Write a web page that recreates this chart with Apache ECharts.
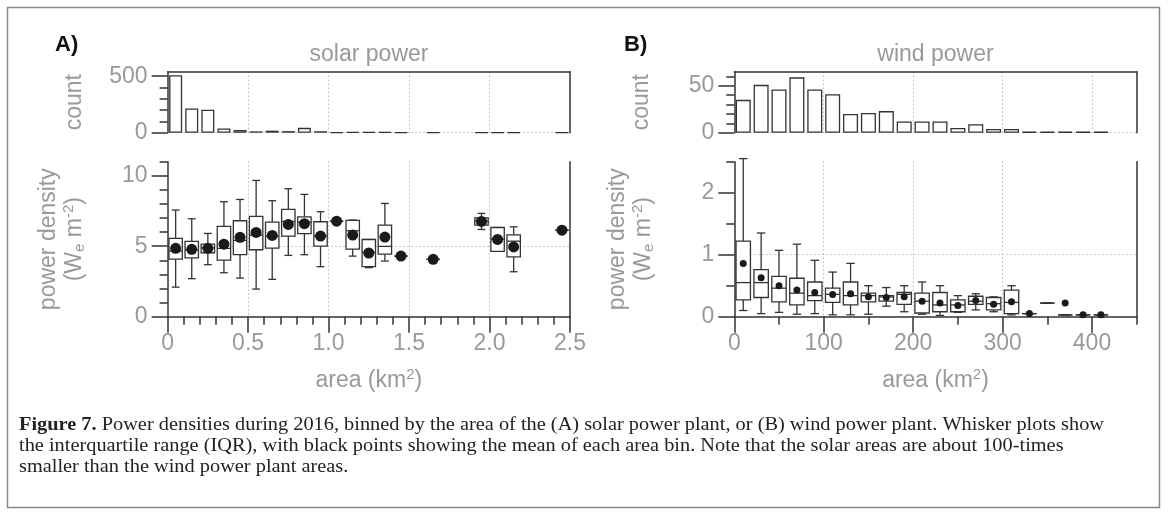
<!DOCTYPE html>
<html>
<head>
<meta charset="utf-8">
<title>Power densities by area</title>
<script src="https://cdn.jsdelivr.net/npm/echarts@6/dist/echarts.min.js"></script>
<style>
  html, body { margin: 0; padding: 0; background: #fff; }
  #main { width: 1168px; height: 515px; }
</style>
</head>
<body>
<div id="main"></div>
<script>
// ---- solar: histogram of plant counts, bins of 0.1 km2
var solarHistBins = [0.05, 0.15, 0.25, 0.35, 0.45, 0.55, 0.65, 0.75, 0.85, 0.95,
                     1.05, 1.15, 1.25, 1.35, 1.45, 1.55, 1.65, 1.75, 1.85, 1.95,
                     2.05, 2.15, 2.25, 2.35, 2.45];
var solarCounts = [508, 215, 203, 38, 25, 12, 18, 14, 43, 13,
                   3, 5, 5, 4, 2, null, 1, null, null, 2,
                   3, 3, null, null, 1];

// ---- solar: power density whiskers (W m-2)
var solarBins = [0.05, 0.15, 0.25, 0.35, 0.45, 0.55, 0.65, 0.75, 0.85, 0.95,
                 1.05, 1.15, 1.25, 1.35, 1.45, 1.65, 1.95, 2.05, 2.15, 2.45];
var solarMin  = [2.10, 2.70, 3.69, 3.12, 2.74, 1.96, 2.65, 4.35, 4.40, 3.55, 6.78, 4.30, 3.48, 3.95, 4.30, 4.07, 6.19, 4.64, 3.19, 6.14];
var solarQ1   = [4.09, 4.18, 4.54, 4.02, 4.40, 4.75, 4.87, 5.72, 5.89, 5.01, 6.78, 4.80, 3.55, 4.44, 4.30, 4.07, 6.50, 4.64, 4.24, 6.14];
var solarMed  = [4.66, 4.73, 4.89, 4.85, 5.41, 5.79, 5.70, 6.76, 6.71, 5.72, 6.78, 6.10, 4.56, 4.99, 4.30, 4.07, 6.79, 5.50, 5.36, 6.14];
var solarQ3   = [5.56, 5.34, 5.15, 6.41, 6.81, 7.12, 6.71, 7.61, 7.09, 6.74, 6.78, 6.83, 5.48, 6.50, 4.30, 4.07, 7.02, 6.33, 5.81, 6.14];
var solarMax  = [7.57, 6.95, 5.91, 8.16, 8.32, 9.67, 8.23, 9.08, 8.68, 7.45, 6.78, 6.86, 5.48, 8.04, 4.30, 4.07, 7.33, 6.33, 6.38, 6.14];
var solarMean = [4.85, 4.78, 4.85, 5.15, 5.63, 5.98, 5.77, 6.55, 6.60, 5.72, 6.78, 5.79, 4.52, 5.65, 4.30, 4.07, 6.76, 5.48, 4.95, 6.14];

// ---- wind: histogram, bins of 20 km2
var windHistBins = [10, 30, 50, 70, 90, 110, 130, 150, 170, 190, 210,
                    230, 250, 270, 290, 310, 330, 350, 370, 390, 410];
var windCounts = [35, 51, 46, 59, 46, 41, 20, 21, 23, 12, 12,
                  12, 5, 9, 4, 4, 1, 1, 1, 1, 1];

// ---- wind: power density whiskers
var windBins = [10, 30, 50, 70, 90, 110, 130, 150, 170, 190, 210,
                230, 250, 270, 290, 310, 330, 350, 370, 390, 410];
var windMin  = [0.10, 0.05, 0.07, 0.04, 0.05, 0.03, 0.03, 0.04, 0.17, 0.08, 0.04, 0.02, 0.07, 0.11, 0.08, 0.03, 0.05, 0.22, 0.03, 0.03, 0.03];
var windQ1   = [0.27, 0.31, 0.24, 0.19, 0.26, 0.23, 0.19, 0.24, 0.25, 0.20, 0.06, 0.08, 0.08, 0.20, 0.11, 0.05, 0.05, 0.22, 0.03, 0.03, 0.03];
var windMed  = [0.55, 0.55, 0.46, 0.38, 0.34, 0.36, 0.34, 0.34, 0.32, 0.36, 0.25, 0.19, 0.19, 0.25, 0.21, 0.23, 0.05, 0.22, 0.03, 0.03, 0.03];
var windQ3   = [1.22, 0.76, 0.65, 0.62, 0.56, 0.46, 0.56, 0.38, 0.34, 0.39, 0.38, 0.39, 0.27, 0.33, 0.31, 0.43, 0.05, 0.22, 0.03, 0.03, 0.03];
var windMax  = [2.55, 1.35, 1.07, 1.17, 0.91, 0.72, 0.86, 0.50, 0.47, 0.50, 0.56, 0.50, 0.34, 0.37, 0.32, 0.50, 0.05, 0.22, 0.03, 0.03, 0.03];
var windMean = [0.86, 0.63, 0.50, 0.43, 0.39, 0.36, 0.37, 0.32, 0.31, 0.32, 0.25, 0.22, 0.18, 0.26, 0.20, 0.24, 0.05, null, 0.22, 0.03, 0.03];

// ---- ticks / labels
var solarCountTicks = [0, 500];
var solarCountMinor = [100, 200, 300, 400];
var solarDensityTicks = [0, 5, 10];
var solarAreaLabels = ['0', '0.5', '1.0', '1.5', '2.0', '2.5'];
var windCountTicks = [0, 50];
var windCountMinor = [10, 20, 30, 40, 60];
var windDensityTicks = [0, 1, 2];
var windAreaTicks = [0, 100, 200, 300, 400];
var windAreaMinor = [50, 150, 250, 350, 450];

var captionBold = 'Figure 7.';
var captionLines = [
  ' Power densities during 2016, binned by the area of the (A) solar power plant, or (B) wind power plant. Whisker plots show',
  'the interquartile range (IQR), with black points showing the mean of each area bin. Note that the solar areas are about 100-times',
  'smaller than the wind power plant areas.'
];

var FONT = '"Liberation Sans", Arial, sans-serif';
var SERIF = '"Liberation Serif", "Times New Roman", serif';
var GRAY = '#999';
var INK = '#333';

function zip(xs, cols) {
  var out = [];
  for (var i = 0; i < xs.length; i++) {
    var row = [xs[i]];
    var skip = false;
    for (var j = 0; j < cols.length; j++) {
      if (cols[j][i] == null) skip = true;
      row.push(cols[j][i]);
    }
    if (!skip) out.push(row);
  }
  return out;
}

var dotted = {
  show: true, showMinLine: false, showMaxLine: false,
  lineStyle: { color: '#999', type: [1, 3], width: 1 }
};

function axis(dim, grid, pos, min, max, extra) {
  var a = {
    type: 'value', gridIndex: grid, position: pos, min: min, max: max,
    axisLine: { show: false, onZero: false, lineStyle: { color: INK, width: 1.5 } },
    axisTick: { show: false },
    axisLabel: { show: false },
    splitLine: { show: false }
  };
  for (var k in extra) a[k] = extra[k];
  if (a.axisLine.onZero !== false) a.axisLine.onZero = false;
  return a;
}
function line() { return { show: true, onZero: false, lineStyle: { color: INK, width: 1.5 } }; }
function ticks(len, values) {
  var t = { show: true, inside: false, length: len, lineStyle: { color: INK, width: 1.5 } };
  if (values) t.customValues = values;
  return t;
}
function labels(margin, extra) {
  var l = { show: true, color: GRAY, fontSize: 23, fontFamily: FONT, margin: margin };
  for (var k in extra) l[k] = extra[k];
  return l;
}
var nameStyle = {
  color: GRAY, fontSize: 23, fontFamily: FONT, lineHeight: 26,
  rich: {
    t: { color: GRAY, fontSize: 23, fontFamily: FONT, lineHeight: 26 },
    sub: { color: GRAY, fontSize: 15, fontFamily: FONT, lineHeight: 13, verticalAlign: 'bottom' },
    sup: { color: GRAY, fontSize: 15, fontFamily: FONT, lineHeight: 13, verticalAlign: 'top' }
  }
};
var densityName = '{t|power density}\n{t|(W}{sub|e}{t| m}{sup|-2}{t|)}';
var areaName = 'area (km{sup|2})';

function boxRenderer(halfW, capW) {
  return function (params, api) {
    var x = api.value(0);
    var lo = api.coord([x, api.value(1)]);
    var q1 = api.coord([x, api.value(2)]);
    var md = api.coord([x, api.value(3)]);
    var q3 = api.coord([x, api.value(4)]);
    var hi = api.coord([x, api.value(5)]);
    var cx = lo[0];
    var st = { stroke: INK, lineWidth: 1.3 };
    return {
      type: 'group',
      children: [
        { type: 'line', shape: { x1: cx, y1: hi[1], x2: cx, y2: q3[1] }, style: st },
        { type: 'line', shape: { x1: cx, y1: q1[1], x2: cx, y2: lo[1] }, style: st },
        { type: 'line', shape: { x1: cx - capW, y1: hi[1], x2: cx + capW, y2: hi[1] }, style: st },
        { type: 'line', shape: { x1: cx - capW, y1: lo[1], x2: cx + capW, y2: lo[1] }, style: st },
        { type: 'rect', shape: { x: cx - halfW, y: q3[1], width: 2 * halfW, height: q1[1] - q3[1] },
          style: { stroke: INK, lineWidth: 1.3, fill: '#fff' } },
        { type: 'line', shape: { x1: cx - halfW, y1: md[1], x2: cx + halfW, y2: md[1] }, style: st }
      ]
    };
  };
}

// caption width fitted to the printed line length
var CAP_SIZE = 19;
var mctx = document.createElement('canvas').getContext('2d');
mctx.font = 'bold ' + CAP_SIZE + 'px ' + SERIF;
var capW = mctx.measureText(captionBold).width;
mctx.font = CAP_SIZE + 'px ' + SERIF;
capW += mctx.measureText(captionLines[0]).width;
var capScale = (1104 - 19) / capW;
var capFont = CAP_SIZE + 'px ' + SERIF;

var chart = echarts.init(document.getElementById('main'));

var option = {
  animation: false,
  backgroundColor: '#fff',
  grid: [
    { left: 167.6, top: 71.7, width: 402.4, height: 61, outerBoundsMode: 'none' },
    { left: 167.6, top: 161.7, width: 402.4, height: 155, outerBoundsMode: 'none' },
    { left: 734.3, top: 71.7, width: 402.4, height: 61, outerBoundsMode: 'none' },
    { left: 734.3, top: 161.7, width: 402.4, height: 155, outerBoundsMode: 'none' }
  ],
  xAxis: [
    // solar histogram
    axis('x', 0, 'bottom', 0, 2.5, { interval: 0.5, splitLine: dotted }),
    axis('x', 0, 'top', 0, 2.5, { axisLine: line() }),
    // solar density
    axis('x', 1, 'bottom', 0, 2.5, {
      interval: 0.5, axisLine: line(), axisTick: ticks(16), splitLine: dotted,
      axisLabel: labels(15, { formatter: function (v) { return solarAreaLabels[Math.round(v / 0.5)]; } }),
      name: areaName, nameLocation: 'middle', nameGap: 51, nameTextStyle: nameStyle
    }),
    axis('x', 1, 'bottom', 0, 2.5, { interval: 0.1, axisTick: ticks(8) }),
    // wind histogram
    axis('x', 2, 'bottom', 0, 450, { interval: 100, splitLine: dotted }),
    axis('x', 2, 'top', 0, 450, { axisLine: line() }),
    // wind density
    axis('x', 3, 'bottom', 0, 450, {
      interval: 100, axisLine: line(), axisTick: ticks(16, windAreaTicks), splitLine: dotted,
      axisLabel: labels(15, { customValues: windAreaTicks }),
      name: areaName, nameLocation: 'middle', nameGap: 51, nameTextStyle: nameStyle
    }),
    axis('x', 3, 'bottom', 0, 450, { axisTick: ticks(8, windAreaMinor) })
  ],
  yAxis: [
    // solar histogram
    axis('y', 0, 'left', 0, 540, {
      interval: 500, axisLine: line(), axisTick: ticks(16, solarCountTicks),
      axisLabel: labels(20, { customValues: solarCountTicks }),
      splitLine: { show: true, showMinLine: true, showMaxLine: false, lineStyle: dotted.lineStyle },
      name: 'count', nameLocation: 'middle', nameRotate: 90, nameGap: 80, nameTextStyle: nameStyle
    }),
    axis('y', 0, 'left', 0, 540, { axisTick: ticks(8, solarCountMinor) }),
    axis('y', 0, 'right', 0, 540, { axisLine: line() }),
    // solar density
    axis('y', 1, 'left', 0, 11, {
      interval: 5, axisLine: line(), axisTick: ticks(16, solarDensityTicks),
      axisLabel: labels(20, { customValues: solarDensityTicks }), splitLine: dotted,
      name: densityName, nameLocation: 'middle', nameRotate: 90, nameGap: 80, nameTextStyle: nameStyle
    }),
    axis('y', 1, 'left', 0, 11, { interval: 1, axisTick: ticks(8) }),
    axis('y', 1, 'right', 0, 11, { axisLine: line() }),
    // wind histogram
    axis('y', 2, 'left', 0, 65, {
      interval: 50, axisLine: line(), axisTick: ticks(16, windCountTicks),
      axisLabel: labels(20, { customValues: windCountTicks }),
      splitLine: { show: true, showMinLine: true, showMaxLine: false, lineStyle: dotted.lineStyle },
      name: 'count', nameLocation: 'middle', nameRotate: 90, nameGap: 80, nameTextStyle: nameStyle
    }),
    axis('y', 2, 'left', 0, 65, { axisTick: ticks(8, windCountMinor) }),
    axis('y', 2, 'right', 0, 65, { axisLine: line() }),
    // wind density
    axis('y', 3, 'left', 0, 2.5, {
      interval: 1, axisLine: line(), axisTick: ticks(16, windDensityTicks),
      axisLabel: labels(20, { customValues: windDensityTicks }), splitLine: dotted,
      name: densityName, nameLocation: 'middle', nameRotate: 90, nameGap: 78, nameTextStyle: nameStyle
    }),
    axis('y', 3, 'left', 0, 2.5, { interval: 0.5, axisTick: ticks(8) }),
    axis('y', 3, 'right', 0, 2.5, { axisLine: line() })
  ],
  series: [
    {
      type: 'bar', xAxisIndex: 0, yAxisIndex: 0, barWidth: 13,
      data: zip(solarHistBins, [solarCounts]),
      itemStyle: { color: '#fff', borderColor: INK, borderWidth: 1.3 }
    },
    {
      type: 'custom', xAxisIndex: 2, yAxisIndex: 3,
      encode: { x: 0, y: [1, 2, 3, 4, 5] },
      renderItem: boxRenderer(6.7, 3.9),
      data: zip(solarBins, [solarMin, solarQ1, solarMed, solarQ3, solarMax])
    },
    {
      type: 'scatter', xAxisIndex: 2, yAxisIndex: 3, symbolSize: 11, z: 5,
      itemStyle: { color: '#1a1a1a', opacity: 1 },
      data: zip(solarBins, [solarMean])
    },
    {
      type: 'bar', xAxisIndex: 4, yAxisIndex: 6, barWidth: 15,
      data: zip(windHistBins, [windCounts]),
      itemStyle: { color: '#fff', borderColor: INK, borderWidth: 1.3 }
    },
    {
      type: 'custom', xAxisIndex: 6, yAxisIndex: 9,
      encode: { x: 0, y: [1, 2, 3, 4, 5] },
      renderItem: boxRenderer(7.2, 4.2),
      data: zip(windBins, [windMin, windQ1, windMed, windQ3, windMax])
    },
    {
      type: 'scatter', xAxisIndex: 6, yAxisIndex: 9, symbolSize: 7, z: 5,
      itemStyle: { color: '#1a1a1a', opacity: 1 },
      data: zip(windBins, [windMean])
    }
  ],
  graphic: [
    { type: 'rect', silent: true, z: -1,
      shape: { x: 7.5, y: 7.5, width: 1152, height: 500 },
      style: { fill: 'none', stroke: '#888', lineWidth: 1.5 } },
    { type: 'text', x: 55, y: 45,
      style: { text: 'A)', fill: '#111', font: 'bold 22px ' + FONT, align: 'left', verticalAlign: 'middle' } },
    { type: 'text', x: 624, y: 45,
      style: { text: 'B)', fill: '#111', font: 'bold 22px ' + FONT, align: 'left', verticalAlign: 'middle' } },
    { type: 'text', x: 369, y: 55,
      style: { text: 'solar power', fill: GRAY, font: '23px ' + FONT, align: 'center', verticalAlign: 'middle' } },
    { type: 'text', x: 935.5, y: 55,
      style: { text: 'wind power', fill: GRAY, font: '23px ' + FONT, align: 'center', verticalAlign: 'middle' } },
    { type: 'text', x: 19, y: 425, scaleX: capScale,
      style: {
        text: '{b|' + captionBold + '}' + captionLines[0],
        fill: '#222', font: capFont, verticalAlign: 'middle',
        rich: { b: { fontWeight: 'bold', fontFamily: SERIF, fontSize: CAP_SIZE, fill: '#222' } }
      } },
    { type: 'text', x: 19, y: 446, scaleX: capScale,
      style: { text: captionLines[1], fill: '#222', font: capFont, verticalAlign: 'middle' } },
    { type: 'text', x: 19, y: 467, scaleX: capScale,
      style: { text: captionLines[2], fill: '#222', font: capFont, verticalAlign: 'middle' } }
  ]
};

chart.setOption(option);
</script>
</body>
</html>
